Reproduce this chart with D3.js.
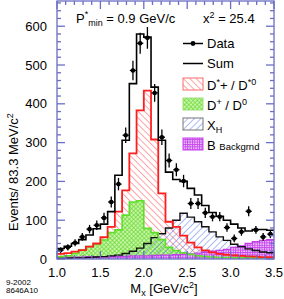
<!DOCTYPE html>
<html><head><meta charset="utf-8">
<script src="https://cdn.jsdelivr.net/npm/d3@7"></script>
<style>body{margin:0;background:#fff}svg{display:block}text{font-family:"Liberation Sans",Arial,Helvetica,sans-serif}</style>
</head><body>
<script>
// ---- data ----
const binStart = 1.0, binWidth = 2.5 / 30;
const dataVals = [23,30,42,57,77,87,106,147,193,319,486,556,570,428,314,254,230,201,143,143,119,109,109,81,53,70,123,75,57,64];
const dataErr  = [7,8,9,10,11,12,13,14,16,20,25,27,28,23,20,18,17,16,14,14,13,12,12,11,10,10,13,10,10,10];
const sumVals  = [27,33,40,50,62,78,90,122,216,306,452,580,572,443,306,224,205,200,182,165,138,120,110,100,90,80,72,76,76,74];
const dstarVals= [13,15,19,23,32,40,56,83,122,177,272,383,434,308,169,96,83,60,42,30,22,17,13,11,9,8,7,6,5,5];
const dVals    = [6,8,15,23,32,38,49,68,75,113,147,150,79,68,50,30,22,16,12,8,6,5,4,4,3,3,3,3,3,3];
const xhVals   = [2,2,3,3,4,5,6,8,10,14,20,28,40,55,65,80,100,118,108,96,83,70,57,48,38,32,26,22,18,16];
const bkgVals  = [5,5,5,5,6,6,6,7,7,7,8,8,8,9,10,10,11,12,13,15,18,20,22,25,30,34,40,45,48,50];
const xTicks = [1.0,1.5,2.0,2.5,3.0,3.5];
const yTicks = [0,100,200,300,400,500,600];

const W = 284, H = 299;
const svg = d3.select("body").append("svg").attr("width", W).attr("height", H);
const x = d3.scaleLinear().domain([1.0, 3.5]).range([57, 274]);
const y = d3.scaleLinear().domain([0, 665]).range([259, 1]);
const frameCol = "#6a6ec4";

// patterns
const defs = svg.append("defs");
function hatch(id, col, angle, sp, sw) {
  const p = defs.append("pattern").attr("id", id).attr("patternUnits", "userSpaceOnUse")
    .attr("width", sp).attr("height", sp).attr("patternTransform", `rotate(${angle})`);
  p.append("line").attr("x1", 0).attr("y1", 0).attr("x2", 0).attr("y2", sp)
    .attr("stroke", col).attr("stroke-width", sw);
}
hatch("pRed", "#ff4a4a", -45, 4.6, 1);
hatch("pBlue", "#5a78ee", 45, 4.6, 1);
{
  const p = defs.append("pattern").attr("id", "pGreen").attr("patternUnits", "userSpaceOnUse")
    .attr("width", 3).attr("height", 3).attr("patternTransform", "rotate(45)");
  p.append("rect").attr("width", 3).attr("height", 3).attr("fill", "#c8f5a8");
  p.append("line").attr("x1", 0).attr("y1", 0).attr("x2", 0).attr("y2", 3).attr("stroke", "#5fd626").attr("stroke-width", 1.2);
  p.append("line").attr("x1", 0).attr("y1", 0).attr("x2", 3).attr("y2", 0).attr("stroke", "#5fd626").attr("stroke-width", 1.2);
}
{
  const p = defs.append("pattern").attr("id", "pPurple").attr("patternUnits", "userSpaceOnUse")
    .attr("width", 2.4).attr("height", 2.4);
  p.append("rect").attr("width", 2.4).attr("height", 2.4).attr("fill", "#eed2fb");
  p.append("line").attr("x1", 0.5).attr("y1", 0).attr("x2", 0.5).attr("y2", 2.4).attr("stroke", "#c640ec").attr("stroke-width", 0.9);
  p.append("line").attr("x1", 0).attr("y1", 0.5).attr("x2", 2.4).attr("y2", 0.5).attr("stroke", "#c640ec").attr("stroke-width", 0.9);
}

function steps(vals) {
  const pts = vals.map((v, i) => [binStart + i * binWidth, v]);
  pts.push([binStart + vals.length * binWidth, vals[vals.length - 1]]);
  return pts;
}
const area = d3.area().x(d => x(d[0])).y0(y(0)).y1(d => y(d[1])).curve(d3.curveStepAfter);
const line = d3.line().x(d => x(d[0])).y(d => y(d[1])).curve(d3.curveStepAfter);

const plot = svg.append("g");
plot.append("path").attr("d", area(steps(dstarVals))).attr("fill", "url(#pRed)");
plot.append("path").attr("d", area(steps(dVals))).attr("fill", "url(#pGreen)");
plot.append("path").attr("d", area(steps(xhVals))).attr("fill", "url(#pBlue)");
plot.append("path").attr("d", area(steps(bkgVals))).attr("fill", "url(#pPurple)");
plot.append("path").attr("d", line(steps(bkgVals))).attr("fill", "none").attr("stroke", "#c23fe6").attr("stroke-width", 1.3);
plot.append("path").attr("d", line(steps(xhVals))).attr("fill", "none").attr("stroke", "#111").attr("stroke-width", 1.4);
plot.append("path").attr("d", line(steps(dVals))).attr("fill", "none").attr("stroke", "#5ee02a").attr("stroke-width", 1.6);
plot.append("path").attr("d", line(steps(dstarVals))).attr("fill", "none").attr("stroke", "#ff1e1e").attr("stroke-width", 1.8);
plot.append("path").attr("d", line(steps(sumVals))).attr("fill", "none").attr("stroke", "#000").attr("stroke-width", 1.6);

// data points
const pts = plot.append("g");
dataVals.forEach((v, i) => {
  const cx = x(binStart + (i + 0.5) * binWidth);
  pts.append("line").attr("x1", cx).attr("x2", cx).attr("y1", y(v - dataErr[i])).attr("y2", y(v + dataErr[i]))
    .attr("stroke", "#000").attr("stroke-width", 1.3);
  pts.append("line").attr("x1", x(binStart + i * binWidth) + 0.5).attr("x2", x(binStart + (i + 1) * binWidth) - 0.5)
    .attr("y1", y(v)).attr("y2", y(v)).attr("stroke", "#000").attr("stroke-width", 1.3);
  pts.append("circle").attr("cx", cx).attr("cy", y(v)).attr("r", 2.3).attr("fill", "#000");
});

// frame & ticks (inward)
const fr = svg.append("g").attr("stroke", frameCol).attr("stroke-width", 1.3).attr("fill", "none");
fr.append("rect").attr("x", 57).attr("y", 1).attr("width", 217).attr("height", 258);
d3.range(0, 661, 20).forEach(v => {
  const L = v % 100 === 0 ? 8 : 4;
  fr.append("line").attr("x1", 57).attr("x2", 57 + L).attr("y1", y(v)).attr("y2", y(v));
  fr.append("line").attr("x1", 274).attr("x2", 274 - L).attr("y1", y(v)).attr("y2", y(v));
});
d3.range(10, 36).forEach(k => {
  const v = k / 10, L = k % 5 === 0 ? 8 : 4;
  fr.append("line").attr("x1", x(v)).attr("x2", x(v)).attr("y1", 259).attr("y2", 259 - L);
  fr.append("line").attr("x1", x(v)).attr("x2", x(v)).attr("y1", 1).attr("y2", 1 + L);
});

// tick labels
svg.append("g").selectAll("text").data(xTicks).join("text")
  .attr("x", d => x(d)).attr("y", 277).attr("text-anchor", "middle").attr("font-size", 13)
  .text(d => d.toFixed(1));
svg.append("g").selectAll("text").data(yTicks).join("text")
  .attr("x", 47).attr("y", d => y(d) + 4.5).attr("text-anchor", "end").attr("font-size", 13)
  .text(d => d);

// axis titles
const xt = svg.append("text").attr("x", 164).attr("y", 293).attr("text-anchor", "middle").attr("font-size", 13);
xt.append("tspan").text("M");
xt.append("tspan").attr("font-size", 9).attr("dy", 3).text("x");
xt.append("tspan").attr("dy", -3).text(" [GeV/c");
xt.append("tspan").attr("font-size", 9).attr("dy", -5).text("2");
xt.append("tspan").attr("dy", 5).text("]");

const yt = svg.append("text").attr("transform", "translate(18,172) rotate(-90)").attr("text-anchor", "middle").attr("font-size", 13);
yt.append("tspan").text("Events/ 83.3 MeV/c");
yt.append("tspan").attr("font-size", 9).attr("dy", -5).text("2");

svg.append("text").attr("x", 6).attr("y", 285).attr("font-size", 8).text("9-2002");
svg.append("text").attr("x", 6).attr("y", 293).attr("font-size", 8).text("8646A10");

// header texts
const t1 = svg.append("text").attr("x", 76).attr("y", 23).attr("font-size", 13);
t1.append("tspan").text("P");
t1.append("tspan").attr("font-size", 9).attr("dy", -6).text("*");
t1.append("tspan").attr("font-size", 9).attr("dy", 9).text("min");
t1.append("tspan").attr("dy", -3).text(" = 0.9 GeV/c");
const t2 = svg.append("text").attr("x", 203).attr("y", 23).attr("font-size", 13);
t2.append("tspan").text("x");
t2.append("tspan").attr("font-size", 9).attr("dy", -5).text("2");
t2.append("tspan").attr("dy", 5).text(" = 25.4");

// legend
const lg = svg.append("g");
lg.append("line").attr("x1", 183).attr("x2", 203).attr("y1", 43.5).attr("y2", 43.5).attr("stroke", "#000").attr("stroke-width", 1.5);
lg.append("circle").attr("cx", 193).attr("cy", 43.5).attr("r", 2.4).attr("fill", "#000");
lg.append("text").attr("x", 207).attr("y", 48).attr("font-size", 13).text("Data");
lg.append("line").attr("x1", 183).attr("x2", 203).attr("y1", 63.5).attr("y2", 63.5).attr("stroke", "#000").attr("stroke-width", 1.5);
lg.append("text").attr("x", 207).attr("y", 68).attr("font-size", 13).text("Sum");
const boxes = [
  {fill: "url(#pRed)", stroke: "#ff6a6a", y: 78},
  {fill: "url(#pGreen)", stroke: "#9adf7a", y: 98},
  {fill: "url(#pBlue)", stroke: "#777", y: 118},
  {fill: "url(#pPurple)", stroke: "#c640ec", y: 138}
];
boxes.forEach(b => lg.append("rect").attr("x", 183).attr("y", b.y).attr("width", 20).attr("height", 12)
  .attr("fill", b.fill).attr("stroke", b.stroke).attr("stroke-width", 1));
const l1 = lg.append("text").attr("x", 207).attr("y", 90).attr("font-size", 13);
l1.append("tspan").text("D");
l1.append("tspan").attr("font-size", 9).attr("dy", -5).text("*");
l1.append("tspan").attr("dy", 5).text("+ / D");
l1.append("tspan").attr("font-size", 9).attr("dy", -5).text("*0");
const l2 = lg.append("text").attr("x", 207).attr("y", 110).attr("font-size", 13);
l2.append("tspan").text("D");
l2.append("tspan").attr("font-size", 9).attr("dy", -5).text("+");
l2.append("tspan").attr("dy", 5).text(" / D");
l2.append("tspan").attr("font-size", 9).attr("dy", -5).text("0");
const l3 = lg.append("text").attr("x", 207).attr("y", 130).attr("font-size", 13);
l3.append("tspan").text("X");
l3.append("tspan").attr("font-size", 9).attr("dy", 3).text("H");
const l4 = lg.append("text").attr("x", 207).attr("y", 150).attr("font-size", 13);
l4.append("tspan").text("B ");
l4.append("tspan").attr("font-size", 9.5).text("Backgrnd");
</script>
</body></html>
